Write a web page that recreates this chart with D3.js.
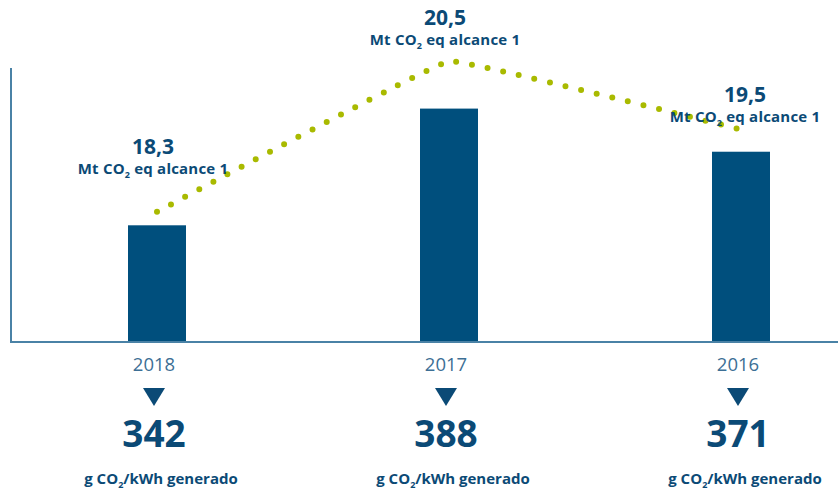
<!DOCTYPE html>
<html lang="es">
<head>
  <meta charset="UTF-8">
  <title>Emisiones CO2</title>
  <style>
    html, body { margin: 0; padding: 0; background: #fff; }
    svg { display: block; font-family: "Open Sans", sans-serif; }
  </style>
</head>
<body>
  <div id="chart"></div>

  <script src="https://d3js.org/d3.v7.min.js"></script>
  <script>
    // Data
    const years = ["2018", "2017", "2016"];
    const intensity = [342, 388, 371];        // g CO2/kWh generado (bars)
    const emissions = [18.3, 20.5, 19.5];     // Mt CO2 eq alcance 1 (dotted line)
    const emissionLabels = ["18,3", "20,5", "19,5"];

    const width = 839, height = 491;
    const axisLeft = 11, axisBottom = 342, axisTop = 68;

    const colors = {
      bar: "#004f7d",
      text: "#0b4a76",
      year: "#3d6f95",
      axis: "#4a82a6",
      dots: "#a9ba00"
    };

    const svg = d3.select("#chart").append("svg")
      .attr("width", width)
      .attr("height", height);

    // Scales
    const x = d3.scalePoint()
      .domain(years)
      .range([157, 741]);

    const yBar = d3.scaleLinear()
      .domain([296, 404])
      .range([axisBottom, axisTop]);

    const yLine = d3.scaleLinear()
      .domain([16.4, 20.4])
      .range([axisBottom, axisTop]);

    const barWidth = 58;

    // Bars
    svg.append("g")
      .selectAll("rect")
      .data(years)
      .join("rect")
      .attr("x", d => x(d) - barWidth / 2)
      .attr("y", (d, i) => yBar(intensity[i]))
      .attr("width", barWidth)
      .attr("height", (d, i) => axisBottom - yBar(intensity[i]))
      .attr("fill", colors.bar);

    // Axes (plain lines, no ticks)
    svg.append("line")
      .attr("x1", axisLeft).attr("x2", axisLeft)
      .attr("y1", axisTop).attr("y2", axisBottom)
      .attr("stroke", colors.axis)
      .attr("stroke-width", 2);

    svg.append("line")
      .attr("x1", axisLeft - 1).attr("x2", 838)
      .attr("y1", axisBottom).attr("y2", axisBottom)
      .attr("stroke", colors.axis)
      .attr("stroke-width", 2);

    // Dotted emissions line
    const line = d3.line()
      .x(d => x(d))
      .y((d, i) => yLine(emissions[i]))
      .curve(d3.curveCardinal.tension(0.85));

    svg.append("path")
      .datum(years)
      .attr("d", line)
      .attr("fill", "none")
      .attr("stroke", colors.dots)
      .attr("stroke-width", 6)
      .attr("stroke-linecap", "round")
      .attr("stroke-dasharray", "0 16");

    // Emission labels above the line
    const labelOffset = [
      {dx: -4, dy: -58},
      {dx: -4, dy: -36},
      {dx: 4, dy: -28}
    ];

    const lbl = svg.append("g")
      .selectAll("g")
      .data(years)
      .join("g")
      .attr("transform", (d, i) =>
        `translate(${x(d) + labelOffset[i].dx},${yLine(emissions[i]) + labelOffset[i].dy})`)
      .attr("text-anchor", "middle")
      .attr("fill", colors.text)
      .attr("font-weight", 700);

    lbl.append("text")
      .attr("font-size", 21)
      .text((d, i) => emissionLabels[i]);

    const sub = lbl.append("text")
      .attr("y", 20)
      .attr("font-size", 15)
      .attr("letter-spacing", 0.2);
    sub.append("tspan").text("Mt CO");
    sub.append("tspan").attr("font-size", 9).attr("dy", 4).text("2");
    sub.append("tspan").attr("dy", -4).text(" eq alcance 1");

    // Bottom block: year, arrow, intensity value, unit
    const bottom = svg.append("g")
      .selectAll("g")
      .data(years)
      .join("g")
      .attr("transform", d => `translate(${x(d)},0)`)
      .attr("text-anchor", "middle");

    bottom.append("text")
      .attr("x", -3)
      .attr("y", 371)
      .attr("font-size", 18.5)
      .attr("fill", colors.year)
      .text(d => d);

    bottom.append("path")
      .attr("d", "M-14,388 L8,388 L-3,406 Z")
      .attr("fill", colors.text);

    bottom.append("text")
      .attr("x", -3)
      .attr("y", 447)
      .attr("font-size", 37)
      .attr("font-weight", 700)
      .attr("fill", colors.text)
      .text((d, i) => intensity[i]);

    const unit = bottom.append("text")
      .attr("x", 4)
      .attr("y", 484)
      .attr("font-size", 15)
      .attr("font-weight", 700)
      .attr("fill", colors.text);
    unit.append("tspan").text("g CO");
    unit.append("tspan").attr("font-size", 9).attr("dy", 4).text("2");
    unit.append("tspan").attr("dy", -4).text("/kWh generado");
  </script>
</body>
</html>
